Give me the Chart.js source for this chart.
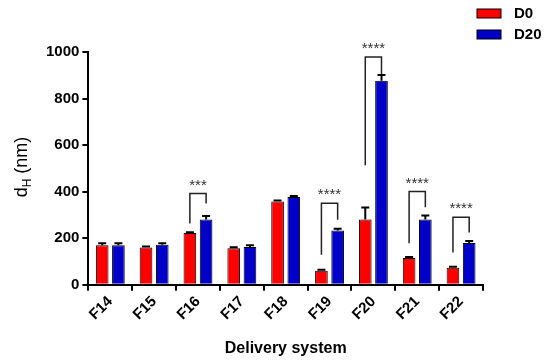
<!DOCTYPE html>
<html>
<head>
<meta charset="utf-8">
<script src="https://cdn.jsdelivr.net/npm/chart.js@4.4.1/dist/chart.umd.min.js"></script>
<style>
  body { margin: 0; background: #fff; }
  #wrap { width: 550px; height: 362px; }
</style>
</head>
<body>
<div id="wrap"><canvas id="chart"></canvas></div>
<script>
const categories = ['F14', 'F15', 'F16', 'F17', 'F18', 'F19', 'F20', 'F21', 'F22'];
const d0Values = [170, 160, 222, 157, 358, 60, 280, 115, 73];
const d20Values = [170, 172, 280, 162, 377, 233, 876, 280, 180];
const d0Errors = [8, 5, 4, 4, 4, 5, 52, 4, 4];
const d20Errors = [8, 6, 15, 8, 4, 8, 25, 18, 8];
const yTicks = [0, 200, 400, 600, 800, 1000];

// significance brackets (category index, top level, left end, right end, label)
const bracketIndex = [2, 5, 6, 7, 8];
const bracketTop = [392, 350, 978, 401, 290];
const bracketLeftEnd = [263, 129, 513, 178, 139];
const bracketRightEnd = [349, 279, 905, 333, 225];
const bracketLabels = ['***', '****', '****', '****', '****'];

Chart.defaults.font.family = 'Arial, "Liberation Sans", sans-serif';
Chart.defaults.color = '#000';

const errors = [d0Errors, d20Errors];

const extras = {
  id: 'extras',
  afterDatasetsDraw(chart) {
    const ctx = chart.ctx;
    const y = chart.scales.y;
    ctx.save();
    ctx.strokeStyle = '#000';
    ctx.lineWidth = 2;

    // error bars (upper only)
    chart.data.datasets.forEach((ds, di) => {
      const meta = chart.getDatasetMeta(di);
      meta.data.forEach((bar, i) => {
        const top = y.getPixelForValue(ds.data[i] + errors[di][i]);
        ctx.beginPath();
        ctx.moveTo(bar.x, bar.y);
        ctx.lineTo(bar.x, top);
        ctx.moveTo(bar.x - 4, top);
        ctx.lineTo(bar.x + 4, top);
        ctx.stroke();
      });
    });

    // brackets
    const m0 = chart.getDatasetMeta(0), m1 = chart.getDatasetMeta(1);
    ctx.lineWidth = 1.5;
    ctx.strokeStyle = '#222';
    ctx.fillStyle = '#333';
    ctx.font = '15px Arial, "Liberation Sans", sans-serif';
    ctx.textAlign = 'center';
    ctx.textBaseline = 'middle';
    bracketIndex.forEach((ci, k) => {
      const xl = m0.data[ci].x, xr = m1.data[ci].x;
      const yt = y.getPixelForValue(bracketTop[k]);
      ctx.beginPath();
      ctx.moveTo(xl, y.getPixelForValue(bracketLeftEnd[k]));
      ctx.lineTo(xl, yt);
      ctx.lineTo(xr, yt);
      ctx.lineTo(xr, y.getPixelForValue(bracketRightEnd[k]));
      ctx.stroke();
      ctx.fillText(bracketLabels[k], (xl + xr) / 2, yt - 8);
    });

    // legend
    ctx.font = 'bold 15px Arial, "Liberation Sans", sans-serif';
    ctx.textAlign = 'left';
    chart.data.datasets.forEach((ds, di) => {
      const ly = 9 + di * 21;
      ctx.fillStyle = ds.backgroundColor;
      ctx.fillRect(477, ly, 24, 9);
      ctx.lineWidth = 1;
      ctx.strokeStyle = '#000';
      ctx.strokeRect(477, ly, 24, 9);
      ctx.fillStyle = '#000';
      ctx.fillText(ds.label, 514, ly + 5);
    });

    // y title with subscript
    ctx.translate(22, 167);
    ctx.rotate(-Math.PI / 2);
    ctx.fillStyle = '#000';
    const big = '18px Arial, "Liberation Sans", sans-serif';
    const small = '12px Arial, "Liberation Sans", sans-serif';
    ctx.font = big;
    ctx.textAlign = 'left';
    const w1 = ctx.measureText('d').width;
    ctx.font = small;
    const w2 = ctx.measureText('H').width;
    ctx.font = big;
    const w3 = ctx.measureText(' (nm)').width;
    const x0 = -(w1 + w2 + w3) / 2;
    ctx.fillText('d', x0, 0);
    ctx.font = small;
    ctx.fillText('H', x0 + w1, 6);
    ctx.font = big;
    ctx.fillText(' (nm)', x0 + w1 + w2, 0);
    ctx.restore();
  }
};

new Chart(document.getElementById('chart'), {
  type: 'bar',
  data: {
    labels: categories,
    datasets: [
      {
        label: 'D0',
        data: d0Values,
        backgroundColor: '#ff0000',
        borderColor: '#000',
        borderWidth: 1,
        categoryPercentage: 0.74,
        barPercentage: 0.78,
      },
      {
        label: 'D20',
        data: d20Values,
        backgroundColor: '#0000c8',
        borderColor: '#000',
        borderWidth: 1,
        categoryPercentage: 0.74,
        barPercentage: 0.78,
      },
    ],
  },
  options: {
    responsive: true,
    maintainAspectRatio: false,
    animation: false,
    layout: { padding: { left: 43, right: 67, top: 52, bottom: 4 } },
    plugins: {
      legend: { display: false },
      tooltip: { enabled: false },
    },
    scales: {
      x: {
        grid: { drawOnChartArea: false, color: '#000', lineWidth: 2, tickLength: 6 },
        border: { color: '#000', width: 2 },
        ticks: {
          color: '#000',
          font: { size: 15, weight: 'bold' },
          maxRotation: 45,
          minRotation: 45,
          padding: 2,
        },
        title: {
          display: true,
          text: 'Delivery system',
          color: '#000',
          font: { size: 16, weight: 'bold' },
          padding: { top: 13, bottom: 0 },
        },
      },
      y: {
        min: 0,
        max: 1000,
        afterBuildTicks: (axis) => { axis.ticks = yTicks.map(v => ({ value: v })); },
        grid: { drawOnChartArea: false, color: '#000', lineWidth: 2, tickLength: 6 },
        border: { color: '#000', width: 2 },
        ticks: {
          color: '#000',
          font: { size: 15, weight: 'bold' },
          padding: 3,
          callback: (v) => String(v),
        },
      },
    },
  },
  plugins: [extras],
});
</script>
</body>
</html>
